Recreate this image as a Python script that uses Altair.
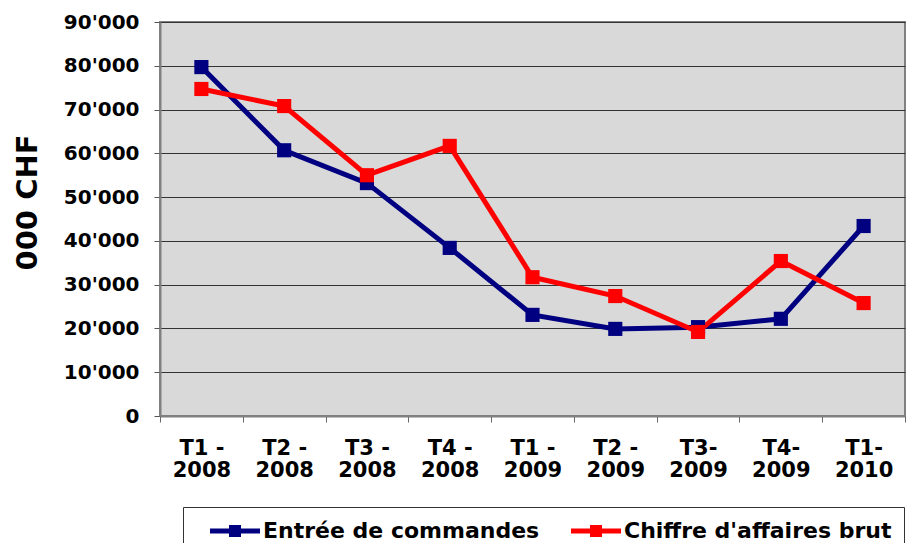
import altair as alt
import pandas as pd

categories = ["T1 -\n2008", "T2 -\n2008", "T3 -\n2008", "T4 -\n2008", "T1 -\n2009",
              "T2 -\n2009", "T3-\n2009", "T4-\n2009", "T1-\n2010"]
commandes = [79700, 60700, 53200, 38400, 23100, 19900, 20300, 22200, 43400]
chiffre = [74700, 70800, 55000, 61700, 31700, 27400, 19200, 35400, 25800]
series_names = ["Entrée de commandes", "Chiffre d'affaires brut"]
series_colors = ["#000080", "#FF0000"]
y_ticks = [0, 10000, 20000, 30000, 40000, 50000, 60000, 70000, 80000, 90000]

rows = []
for name, vals in zip(series_names, [commandes, chiffre]):
    for i, (c, v) in enumerate(zip(categories, vals)):
        rows.append({"Trimestre": c, "Valeur": v, "Série": name, "order": i})
df = pd.DataFrame(rows)

FONT = "DejaVu Sans"
# legend glyph: a thick line with a square in its middle (unit = 12 px)
legend_path = ("M0.25,-0.208L4.417,-0.208L4.417,0.208L0.25,0.208Z "
               "M1.833,-0.5L2.833,-0.5L2.833,0.5L1.833,0.5Z")

x_enc = alt.X("Trimestre:N", sort=categories, title=None,
              scale=alt.Scale(paddingInner=0, paddingOuter=0),
              axis=alt.Axis(labelExpr="split(datum.label, '\\n')", labelAngle=0,
                            labelFont=FONT, labelFontWeight="bold", labelFontSize=21,
                            labelColor="black", labelLineHeight=22, labelPadding=15,
                            tickBand="extent", tickSize=6, tickColor="#666",
                            domainColor="#808080", domainWidth=2, grid=False,
                            labelBaseline="top"))
y_enc = alt.Y("Valeur:Q", scale=alt.Scale(domain=[0, 90000], nice=False, zero=True),
              title="000 CHF",
              axis=alt.Axis(values=y_ticks,
                            labelExpr="replace(format(datum.value, ','), ',', \"'\")",
                            labelFont=FONT, labelFontWeight="bold", labelFontSize=20,
                            labelColor="black", labelPadding=15, tickSize=6,
                            tickColor="#555", domainColor="#808080", domainWidth=2,
                            gridColor="#333", gridWidth=1, gridOpacity=1,
                            titleFont=FONT, titleFontWeight="bold", titleFontSize=29,
                            titleColor="black", titlePadding=21, titleY=180))
color_scale = alt.Scale(domain=series_names, range=series_colors)

legend = alt.Legend(title=None, orient="none", direction="horizontal",
                    legendX=23, legendY=485,
                    symbolType=legend_path, symbolSize=576,
                    symbolStrokeWidth=0, symbolOpacity=1,
                    labelFont=FONT, labelFontWeight="bold",
                    labelFontSize=22, labelColor="black",
                    labelOffset=44, columnPadding=16,
                    padding=12, strokeColor="#333",
                    fillColor="white", labelLimit=400)

lines = alt.Chart(df).mark_line(strokeWidth=5).encode(
    x=x_enc, y=y_enc,
    color=alt.Color("Série:N", scale=color_scale, legend=legend),
    detail="Série:N", order="order:Q")

points = alt.Chart(df).mark_point(shape="square", filled=True, size=200, opacity=1).encode(
    x=x_enc, y=y_enc,
    color=alt.Color("Série:N", scale=color_scale, legend=legend))

chart = (lines + points).properties(
    width=745, height=394,
    autosize=alt.AutoSizeParams(type="none"),
    padding={"left": 152, "top": 14, "right": 2, "bottom": 127},
    background="white",
).configure_view(fill="#D9D9D9", stroke="#808080", strokeWidth=2)

chart.save("out.html", embed_options={"renderer": "svg", "actions": False})
